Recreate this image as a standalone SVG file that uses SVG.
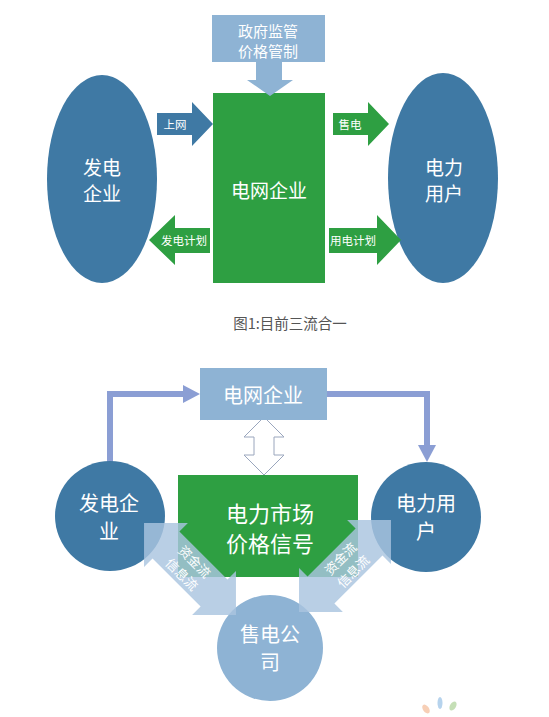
<svg xmlns="http://www.w3.org/2000/svg" width="549" height="717" viewBox="0 0 549 717">
<style>
text{font-family:"Noto Sans CJK SC","Noto Sans",sans-serif;fill:#fff;text-anchor:middle;dominant-baseline:central}
.steel{fill:#3f79a4}
.green{fill:#2e9f42}
.light{fill:#8eb3d4}
.flow{fill:#a9c5df;fill-opacity:0.82}
.conn{fill:none;stroke:#8b9ed4;stroke-width:6}
.head{fill:#8b9ed4}
.t19{font-size:19px}
.t21{font-size:20px}
.t16{font-size:15px}
.t11{font-size:11.5px}
.t12{font-size:13px}
</style>
<rect width="549" height="717" fill="#fff"/>

<!-- ===== Figure 1 ===== -->
<g id="grid-company-1">
  <rect class="green" x="213" y="93" width="112" height="190"/>
  <text class="t19" x="269" y="189">电网企业</text>
</g>
<g id="gov-regulation">
  <polygon class="light" points="212,15 325,15 325,62 282,62 282,80 293,80 270,96 247,80 256,80 256,62 212,62"/>
  <text class="t16" x="268" y="30">政府监管</text>
  <text class="t16" x="268" y="50">价格管制</text>
</g>
<g id="generator-1">
  <ellipse class="steel" cx="102" cy="179" rx="55" ry="104"/>
  <text class="t19" x="102" y="166">发电</text>
  <text class="t19" x="102" y="192">企业</text>
</g>
<g id="consumer-1">
  <ellipse class="steel" cx="443" cy="178" rx="55" ry="105"/>
  <text class="t19" x="444" y="166">电力</text>
  <text class="t19" x="444" y="192">用户</text>
</g>
<g id="flows-1">
  <g id="arrow-shangwang">
    <polygon class="steel" points="157,113 192,113 192,102 213,124 192,146 192,135 157,135"/>
    <text class="t11" x="175" y="124">上网</text>
  </g>
  <g id="arrow-shoudian">
    <polygon class="green" points="333,113 368,113 368,102 389,124 368,146 368,135 333,135"/>
    <text class="t11" x="350" y="124">售电</text>
  </g>
  <g id="arrow-fadianjihua">
    <polygon class="green" points="210,228 175,228 175,215 149,240 175,265 175,253 210,253"/>
    <text class="t11" x="184" y="240">发电计划</text>
  </g>
  <g id="arrow-yongdianjihua">
    <polygon class="green" points="329,228 377,228 377,215 401,240 377,265 377,253 329,253"/>
    <text class="t11" x="353" y="240">用电计划</text>
  </g>
</g>
<text x="290" y="322" style="font-size:14.5px;fill:#555">图1:目前三流合一</text>

<!-- ===== Figure 2 ===== -->
<g id="connectors-2">
  <polyline class="conn" points="110,463 110,394 184,394"/>
  <polygon class="head" points="183,385 200,394 183,403"/>
  <polyline class="conn" points="327,394 427,394 427,446"/>
  <polygon class="head" points="418,445 427,462 436,445"/>
  <polygon points="264,417 284,437 274,437 274,455 284,455 264,475 244,455 254,455 254,437 244,437" fill="#fff" stroke="#9aa6bd" stroke-width="1"/>
</g>
<g id="grid-company-2">
  <rect class="light" x="200" y="368" width="127" height="52"/>
  <text class="t21" x="263" y="394">电网企业</text>
</g>
<g id="generator-2">
  <circle class="steel" cx="110" cy="516" r="55"/>
  <text class="t21" x="109" y="502">发电企</text>
  <text class="t21" x="109" y="530">业</text>
</g>
<g id="consumer-2">
  <circle class="steel" cx="426" cy="517" r="55"/>
  <text class="t21" x="426" y="502">电力用</text>
  <text class="t21" x="426" y="530">户</text>
</g>
<g id="retailer">
  <circle class="light" cx="270" cy="648" r="53"/>
  <text class="t21" x="270" y="633">售电公</text>
  <text class="t21" x="270" y="661">司</text>
</g>
<g id="market-signal">
  <rect class="green" x="178" y="475" width="180" height="102"/>
  <text x="270" y="512" style="font-size:22px">电力市场</text>
  <text x="270" y="542" style="font-size:22px">价格信号</text>
</g>
<g id="flow-left" transform="translate(190,569) rotate(45)">
  <polygon class="flow" points="-65,0 -34,-31 -34,-19 34,-19 34,-31 65,0 34,31 34,19 -34,19 -34,31"/>
  <text class="t12" x="-2" y="-9">资金流</text>
  <text class="t12" x="-2" y="9">信息流</text>
</g>
<g id="flow-right" transform="translate(345,566) rotate(-45)">
  <polygon class="flow" points="-65,0 -34,-31 -34,-19 34,-19 34,-31 65,0 34,31 34,19 -34,19 -34,31"/>
  <text class="t12" x="2" y="-9">资金流</text>
  <text class="t12" x="2" y="9">信息流</text>
</g>
<g id="watermark" opacity="0.5">
  <ellipse cx="426" cy="709" rx="3" ry="5" fill="#f0a070" transform="rotate(-35 426 709)"/>
  <ellipse cx="440" cy="703" rx="2.5" ry="6" fill="#6fa8dc"/>
  <ellipse cx="453" cy="706" rx="3" ry="5" fill="#8cc070" transform="rotate(30 453 706)"/>
</g>
</svg>
